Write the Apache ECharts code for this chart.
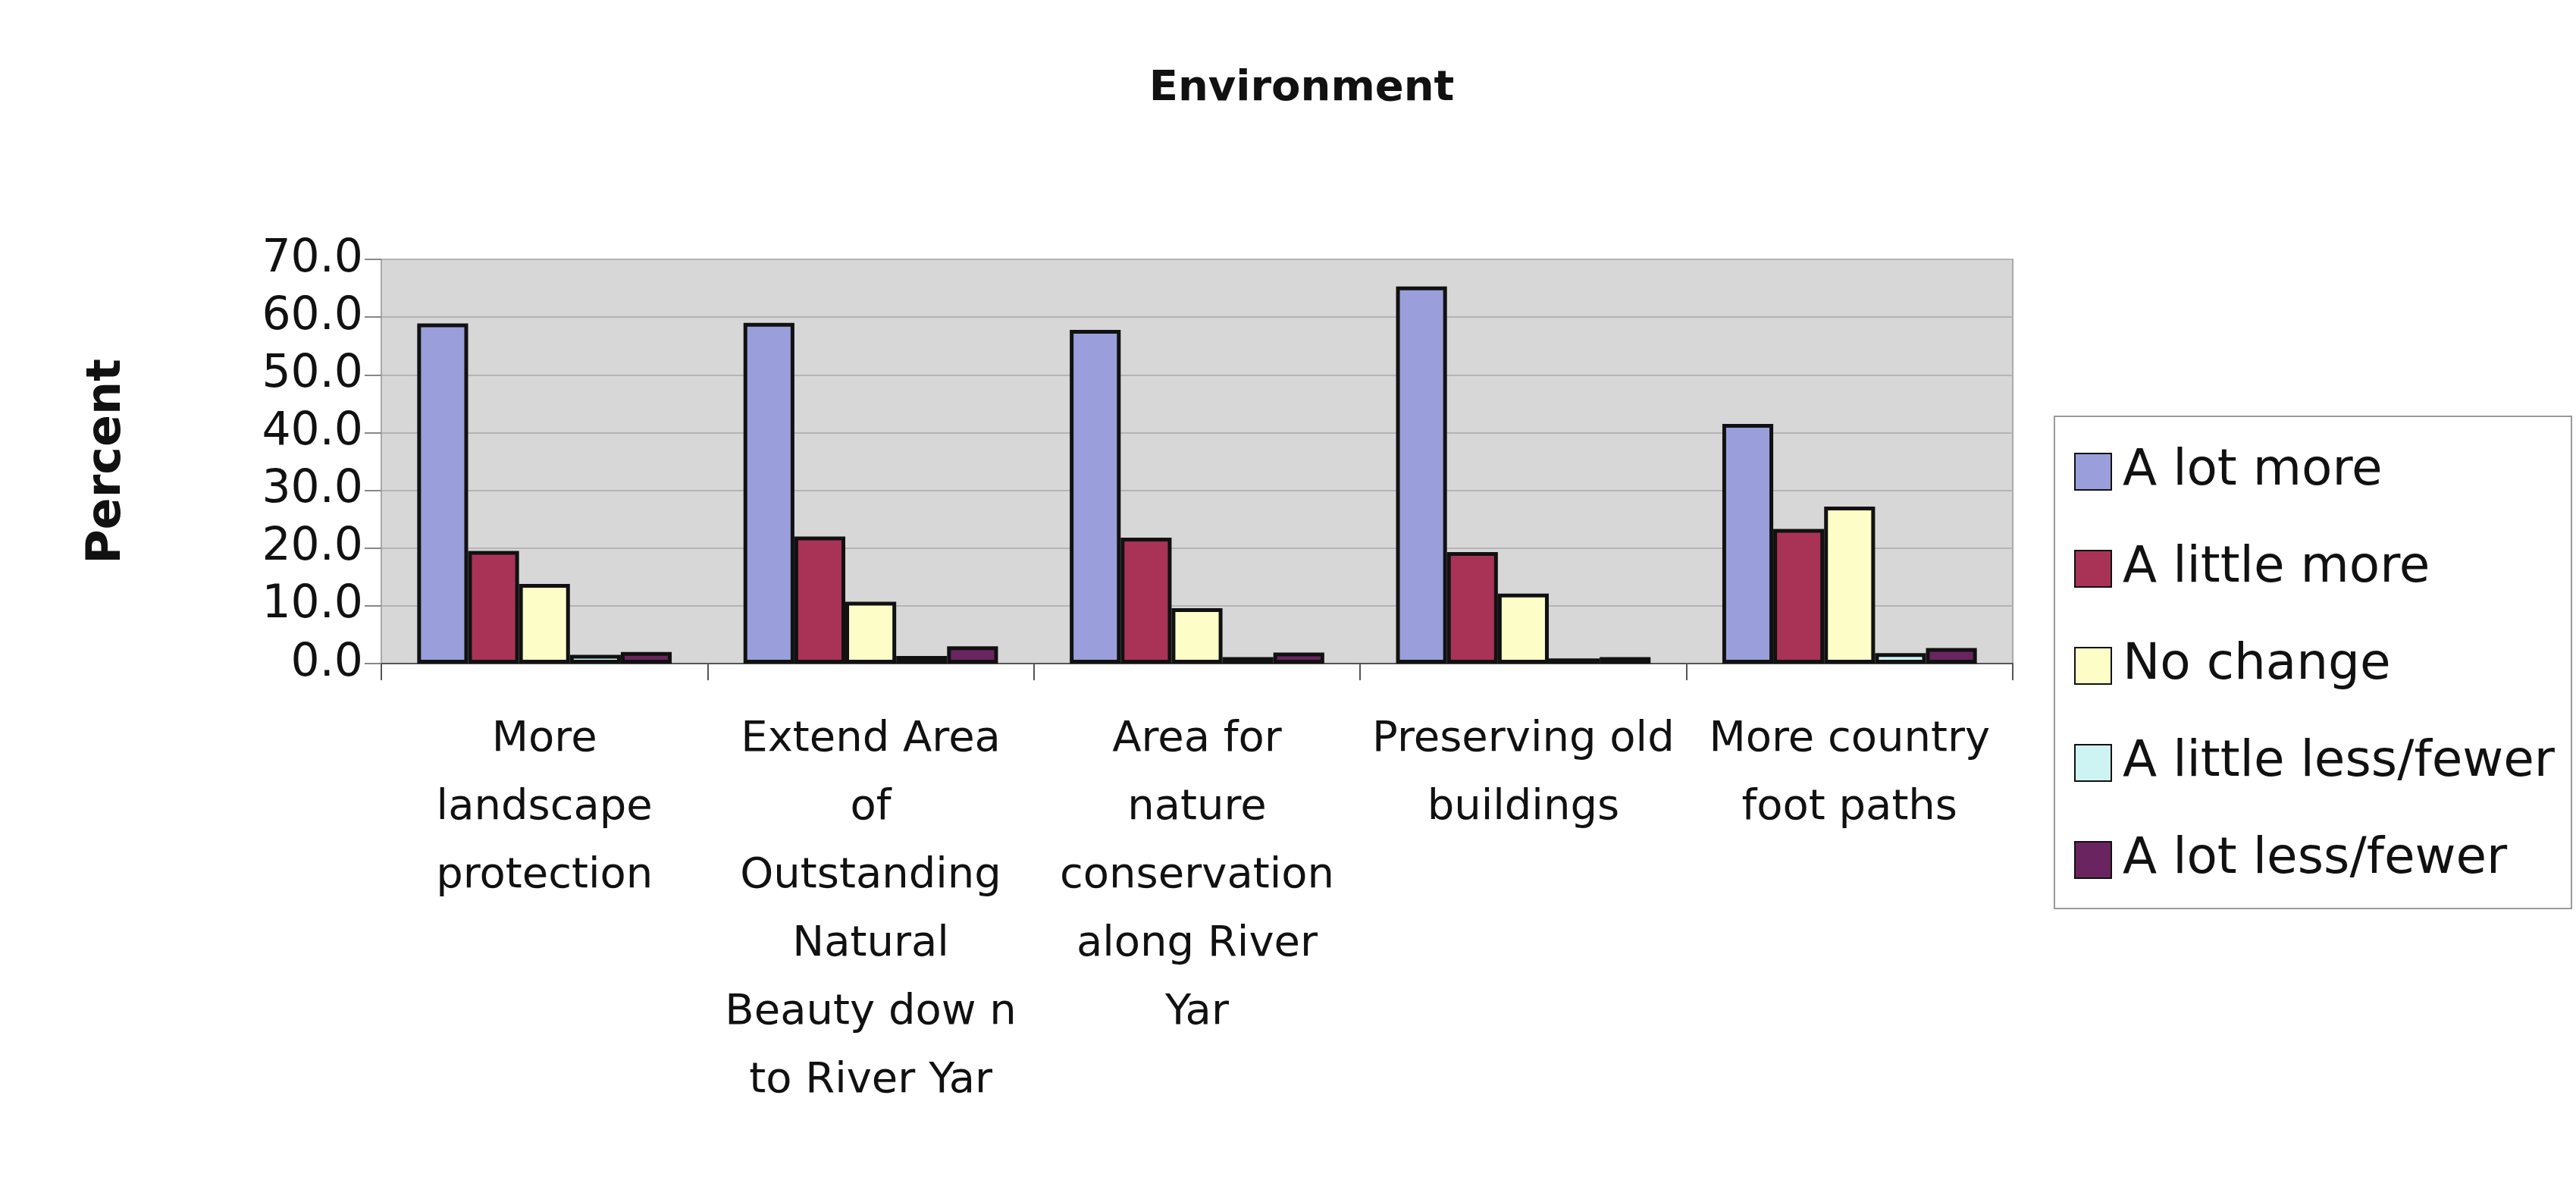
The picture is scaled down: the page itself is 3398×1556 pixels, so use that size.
<!DOCTYPE html>
<html>
<head>
<meta charset="utf-8">
<script src="https://cdn.jsdelivr.net/npm/echarts@6/dist/echarts.min.js"></script>
<style>
  html, body { margin: 0; padding: 0; background: #fff; }
  #main { width: 3398px; height: 1556px; }
</style>
</head>
<body>
<div id="main"></div>
<script>
// categories along the x axis
var categories = [
    'More\nlandscape\nprotection',
    'Extend Area\nof\nOutstanding\nNatural\nBeauty dow n\nto River Yar',
    'Area for\nnature\nconservation\nalong River\nYar',
    'Preserving old\nbuildings',
    'More country\nfoot paths'
];

// series values (percent)
var aLotMore = [58.9, 59.0, 57.8, 65.3, 41.5];
var aLittleMore = [19.5, 22.0, 21.8, 19.3, 23.3];
var noChange = [13.8, 10.7, 9.6, 12.1, 27.2];
var aLittleLess = [1.5, 1.3, 1.1, 0.9, 1.8];
var aLotLess = [2.0, 3.0, 1.9, 1.1, 2.7];

var seriesNames = ['A lot more', 'A little more', 'No change', 'A little less/fewer', 'A lot less/fewer'];
var seriesColors = ['#9a9fdb', '#a93357', '#fdfdc8', '#cdf3f3', '#6a2560'];

// y axis tick values
var yTicks = [0, 10, 20, 30, 40, 50, 60, 70];

var font = 'DejaVu Sans';
var myChart = echarts.init(document.getElementById('main'));

var seriesData = [aLotMore, aLittleMore, noChange, aLittleLess, aLotLess];
var series = [];
for (var i = 0; i < seriesNames.length; i++) {
    series.push({
        name: seriesNames[i],
        type: 'bar',
        data: seriesData[i],
        barGap: '0%',
        barCategoryGap: '22%',
        itemStyle: {
            color: seriesColors[i],
            borderColor: '#111',
            borderWidth: 5
        }
    });
}

var option = {
    backgroundColor: '#ffffff',
    animation: false,
    title: {
        text: 'Environment',
        left: 1712,
        top: 84,
        textAlign: 'center',
        textStyle: {
            fontFamily: font,
            fontWeight: 'bold',
            fontSize: 56,
            color: '#111'
        }
    },
    legend: {
        orient: 'vertical',
        left: 2710,
        top: 549,
        padding: [40, 22, 31, 26],
        itemWidth: 48,
        itemHeight: 48,
        itemGap: 62,
        borderColor: '#9a9a9a',
        borderWidth: 2,
        icon: 'rect',
        data: seriesNames,
        textStyle: {
            fontFamily: font,
            fontSize: 66,
            color: '#111',
            padding: [0, 0, 0, 10]
        }
    },
    grid: {
        left: 503,
        right: 743,
        top: 342,
        bottom: 681,
        show: true,
        backgroundColor: '#d7d7d7',
        borderColor: '#a8a8a8',
        borderWidth: 2
    },
    xAxis: {
        type: 'category',
        data: categories,
        axisLine: { lineStyle: { color: '#555', width: 2 } },
        axisTick: { show: true, length: 22, lineStyle: { color: '#555', width: 2 } },
        axisLabel: {
            interval: 0,
            margin: 55,
            fontFamily: font,
            fontSize: 56,
            lineHeight: 90,
            color: '#111'
        }
    },
    yAxis: {
        type: 'value',
        min: yTicks[0],
        max: yTicks[yTicks.length - 1],
        interval: yTicks[1] - yTicks[0],
        name: 'Percent',
        nameLocation: 'middle',
        nameGap: 330,
        nameRotate: 90,
        nameTextStyle: {
            fontFamily: font,
            fontWeight: 'bold',
            fontSize: 62,
            color: '#111'
        },
        axisLine: { show: true, lineStyle: { color: '#a8a8a8', width: 2 } },
        axisTick: { show: true, length: 22, lineStyle: { color: '#888', width: 2 } },
        splitLine: { show: true, lineStyle: { color: '#b4b4b8', width: 2 } },
        axisLabel: {
            margin: 24,
            fontFamily: font,
            fontSize: 60,
            color: '#111',
            formatter: function (v) { return v.toFixed(1); }
        }
    },
    series: series
};

myChart.setOption(option);
</script>
</body>
</html>
